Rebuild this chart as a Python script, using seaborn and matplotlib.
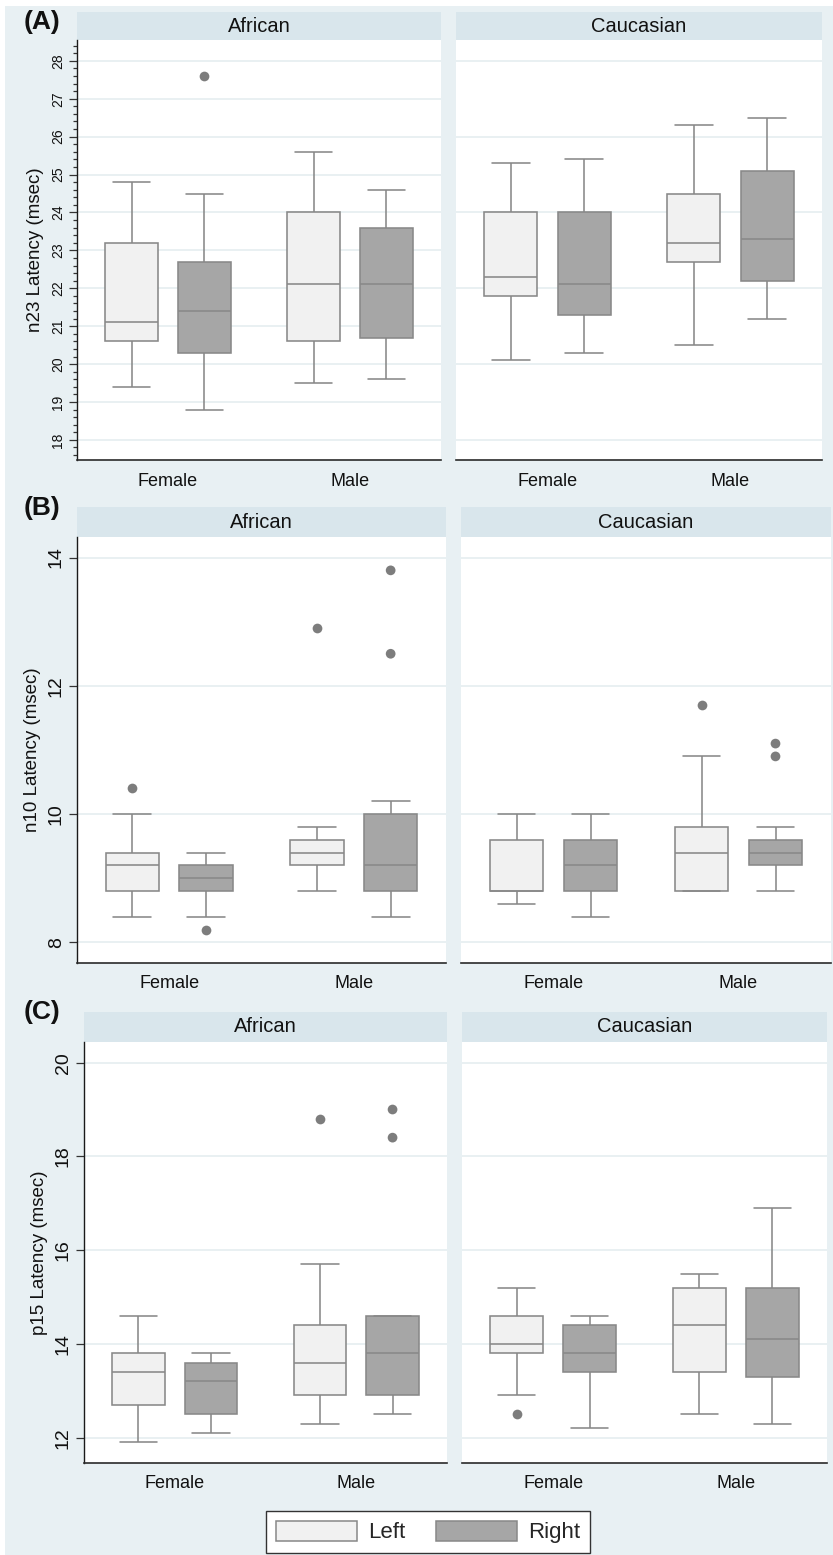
import numpy as np
import pandas as pd
import matplotlib
matplotlib.use("Agg")
import matplotlib.pyplot as plt
from matplotlib.patches import Patch, Rectangle
from matplotlib.ticker import MultipleLocator
import seaborn as sns

# ---------------------------------------------------------------------------
# Data: five-number summaries [low whisker, Q1, median, Q3, high whisker],
# listed Female first, then Male.
# ---------------------------------------------------------------------------
sexes = ["Female", "Male"]
races = ["African", "Caucasian"]
sides = ["Left", "Right"]

n23_african_left = [[19.4, 20.6, 21.1, 23.2, 24.8], [19.5, 20.6, 22.1, 24.0, 25.6]]
n23_african_right = [[18.8, 20.3, 21.4, 22.7, 24.5], [19.6, 20.7, 22.1, 23.6, 24.6]]
n23_caucasian_left = [[20.1, 21.8, 22.3, 24.0, 25.3], [20.5, 22.7, 23.2, 24.5, 26.3]]
n23_caucasian_right = [[20.3, 21.3, 22.1, 24.0, 25.4], [21.2, 22.2, 23.3, 25.1, 26.5]]
n23_outliers = [("African", "Female", "Right", 27.6)]

n10_african_left = [[8.4, 8.8, 9.2, 9.4, 10.0], [8.8, 9.2, 9.4, 9.6, 9.8]]
n10_african_right = [[8.4, 8.8, 9.0, 9.2, 9.4], [8.4, 8.8, 9.2, 10.0, 10.2]]
n10_caucasian_left = [[8.6, 8.8, 8.8, 9.6, 10.0], [8.8, 8.8, 9.4, 9.8, 10.9]]
n10_caucasian_right = [[8.4, 8.8, 9.2, 9.6, 10.0], [8.8, 9.2, 9.4, 9.6, 9.8]]
n10_outliers = [
    ("African", "Female", "Left", 10.4),
    ("African", "Female", "Right", 8.2),
    ("African", "Male", "Left", 12.9),
    ("African", "Male", "Right", 13.8),
    ("African", "Male", "Right", 12.5),
    ("Caucasian", "Male", "Left", 11.7),
    ("Caucasian", "Male", "Right", 11.1),
    ("Caucasian", "Male", "Right", 10.9),
]

p15_african_left = [[11.9, 12.7, 13.4, 13.8, 14.6], [12.3, 12.9, 13.6, 14.4, 15.7]]
p15_african_right = [[12.1, 12.5, 13.2, 13.6, 13.8], [12.5, 12.9, 13.8, 14.6, 14.6]]
p15_caucasian_left = [[12.9, 13.8, 14.0, 14.6, 15.2], [12.5, 13.4, 14.4, 15.2, 15.5]]
p15_caucasian_right = [[12.2, 13.4, 13.8, 14.4, 14.6], [12.3, 13.3, 14.1, 15.2, 16.9]]
p15_outliers = [
    ("African", "Male", "Left", 18.8),
    ("African", "Male", "Right", 19.0),
    ("African", "Male", "Right", 18.4),
    ("Caucasian", "Female", "Left", 12.5),
]

panel_tags = ["(A)", "(B)", "(C)"]
y_labels = ["n23 Latency (msec)", "n10 Latency (msec)", "p15 Latency (msec)"]

# ---------------------------------------------------------------------------
# Styling
# ---------------------------------------------------------------------------
sns.set_theme(style="white")
plt.rcParams["font.family"] = ["Liberation Sans", "DejaVu Sans"]

W, H = 833, 1555
BG = "#e8f0f3"
STRIP = "#d9e6ec"
GRID = "#e5edf0"
EDGE = "#888888"
DOT = "#7d7d7d"
TEXT = "#111111"
fills = {"Left": "#f1f1f1", "Right": "#a6a6a6"}


def summary_frame(summaries):
    rows = []
    for (race, side), per_sex in summaries.items():
        for sex, stats in zip(sexes, per_sex):
            for v in stats:
                rows.append((race, sex, side, v))
    return pd.DataFrame(rows, columns=["race", "sex", "side", "value"])


def outlier_frame(points):
    return pd.DataFrame(points, columns=["race", "sex", "side", "value"])


metrics = [
    dict(
        boxes=summary_frame({
            ("African", "Left"): n23_african_left,
            ("African", "Right"): n23_african_right,
            ("Caucasian", "Left"): n23_caucasian_left,
            ("Caucasian", "Right"): n23_caucasian_right,
        }),
        outliers=outlier_frame(n23_outliers),
        ylim=(17.47, 28.55), major=1, minor=0.2, tick_fs=10,
        grid={"African": np.arange(18, 29, 1), "Caucasian": np.arange(18, 29, 2)},
        frames={"African": (77, 40, 441, 460), "Caucasian": (456, 40, 822, 460)},
        strip_top=12, tag_y=22,
    ),
    dict(
        boxes=summary_frame({
            ("African", "Left"): n10_african_left,
            ("African", "Right"): n10_african_right,
            ("Caucasian", "Left"): n10_caucasian_left,
            ("Caucasian", "Right"): n10_caucasian_right,
        }),
        outliers=outlier_frame(n10_outliers),
        ylim=(7.68, 14.32), major=2, minor=None, tick_fs=14,
        grid={"African": np.arange(8, 15, 2), "Caucasian": np.arange(8, 15, 2)},
        frames={"African": (77, 537, 446, 963), "Caucasian": (461, 537, 831, 963)},
        strip_top=507, tag_y=508,
    ),
    dict(
        boxes=summary_frame({
            ("African", "Left"): p15_african_left,
            ("African", "Right"): p15_african_right,
            ("Caucasian", "Left"): p15_caucasian_left,
            ("Caucasian", "Right"): p15_caucasian_right,
        }),
        outliers=outlier_frame(p15_outliers),
        ylim=(11.46, 20.44), major=2, minor=None, tick_fs=14,
        grid={"African": np.arange(12, 21, 2), "Caucasian": np.arange(12, 21, 2)},
        frames={"African": (84, 1042, 447, 1463), "Caucasian": (462, 1042, 827, 1463)},
        strip_top=1012, tag_y=1012,
    ),
]

fig = plt.figure(figsize=(W / 100, H / 100), dpi=100)
fig.patch.set_facecolor("white")
fig.add_artist(Rectangle((5 / W, 0), 1 - 5 / W, 1 - 6 / H,
                         transform=fig.transFigure, facecolor=BG,
                         edgecolor="none", zorder=-10))


def px_axes(x0, y0, x1, y1, **kw):
    return fig.add_axes([x0 / W, 1 - y1 / H, (x1 - x0) / W, (y1 - y0) / H], **kw)


for tag, ylabel, m in zip(panel_tags, y_labels, metrics):
    for race in races:
        x0, y0, x1, y1 = m["frames"][race]

        # facet header strip
        sax = px_axes(x0, m["strip_top"], x1, y0)
        sax.set_facecolor(STRIP)
        sax.set_xticks([])
        sax.set_yticks([])
        for sp in sax.spines.values():
            sp.set_visible(False)
        sax.text(0.5, 0.5, race, ha="center", va="center", fontsize=14.5,
                 color=TEXT, transform=sax.transAxes)

        ax = px_axes(x0, y0, x1, y1)
        ax.set_facecolor("white")
        sub = m["boxes"][m["boxes"]["race"] == race]
        sns.boxplot(
            data=sub, x="sex", y="value", hue="side",
            order=sexes, hue_order=sides, palette=fills, saturation=1,
            whis=(0, 100), showfliers=False, width=0.8, gap=0.275,
            linecolor=EDGE, linewidth=1.15, legend=False, ax=ax,
            capwidths=0.205,
        )
        pts = m["outliers"][m["outliers"]["race"] == race]
        if len(pts):
            sns.stripplot(
                data=pts, x="sex", y="value", hue="side",
                order=sexes, hue_order=sides, palette={s: DOT for s in sides},
                dodge=True, jitter=False, size=7, linewidth=0,
                legend=False, ax=ax, zorder=3,
            )

        ax.set_xlim(-0.5, 1.5)
        ax.set_ylim(*m["ylim"])
        ax.set_xlabel("")
        ax.tick_params(axis="x", length=0, pad=9, labelsize=13, labelcolor=TEXT)

        for v in m["grid"][race]:
            ax.axhline(v, color=GRID, lw=1.2, zorder=0)

        ax.spines["top"].set_visible(False)
        ax.spines["right"].set_visible(False)
        ax.spines["bottom"].set_color("#2a2a2a")
        ax.spines["bottom"].set_linewidth(1.2)

        if race == "African":
            ax.spines["left"].set_color("#1a1a1a")
            ax.spines["left"].set_linewidth(1.0)
            ax.yaxis.set_major_locator(MultipleLocator(m["major"]))
            if m["minor"]:
                ax.yaxis.set_minor_locator(MultipleLocator(m["minor"]))
                ax.tick_params(axis="y", which="minor", left=True, length=3,
                               width=0.9, color="#333333")
            ax.tick_params(axis="y", which="major", left=True, length=5.8,
                           width=0.9, color="#333333", pad=3,
                           labelsize=m["tick_fs"], labelcolor=TEXT,
                           labelrotation=90)
            for t in ax.get_yticklabels():
                t.set_verticalalignment("center")
            ax.set_ylabel(ylabel, fontsize=13.5, color=TEXT, labelpad=5)
            # panel tag above the y axis
            fig.text(24 / W, 1 - m["tag_y"] / H, tag, ha="left", va="center",
                     fontsize=19, fontweight="bold", color=TEXT)
        else:
            ax.spines["left"].set_visible(False)
            ax.set_yticks([])
            ax.set_ylabel("")

# legend along the bottom
handles = [Patch(facecolor=fills[s], edgecolor=EDGE, linewidth=1.1) for s in sides]
leg = fig.legend(handles, sides, loc="center",
                 bbox_to_anchor=(428 / W, 1 - 1532 / H), ncol=2,
                 frameon=True, fancybox=False, edgecolor="#333333",
                 framealpha=1, facecolor="white", fontsize=16,
                 handlelength=3.65, handleheight=1.05, handletextpad=0.5,
                 columnspacing=1.35, borderpad=0.45, borderaxespad=0)
leg.get_frame().set_linewidth(1.0)

fig.savefig("out.png", dpi=100, facecolor=fig.get_facecolor())
